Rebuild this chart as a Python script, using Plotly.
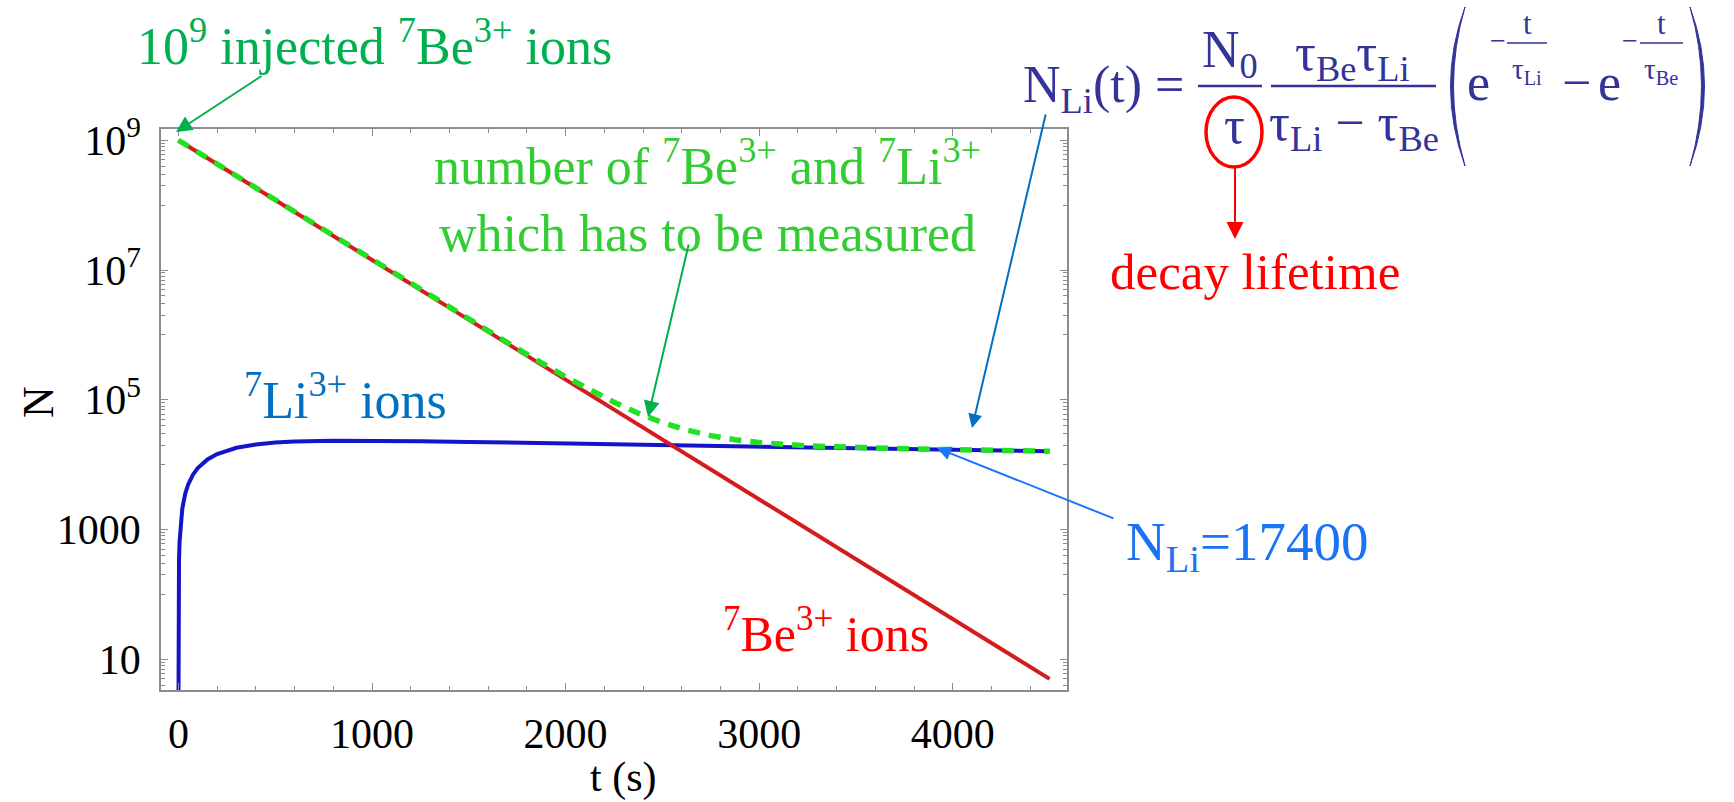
import plotly.graph_objects as go

# ---------------- data ----------------
t_be = [0, 500, 1000, 1500, 2000, 2500, 3000, 3500, 4000, 4500]
n_be = [1.0e9, 1.196e8, 1.433e7, 1.714e6, 2.05e5, 2.45e4, 2.93e3, 351, 42, 5.0]

t_li = [0, 0.3, 1, 3, 6, 10, 20, 35, 50, 75, 100, 150, 200, 300, 400, 500, 600,
        800, 1000, 1250, 1500, 2000, 2500, 3000, 3500, 4000, 4500]
n_li = [1, 33, 110, 330, 650, 1070, 2100, 3560, 4920, 7000, 8870, 12040, 14580,
        18220, 20500, 21900, 22720, 23360, 23330, 22930, 22390, 21220, 20070,
        18990, 17960, 16990, 16070]

t_sum = [0, 500, 1000, 1250, 1500, 1750, 2000, 2125, 2250, 2375, 2500, 2625, 2750,
         2875, 3000, 3250, 3500, 3750, 4000, 4250, 4500]
n_sum = [1.0e9, 1.196e8, 1.435e7, 4.97e6, 1.736e6, 6.15e5, 2.26e5, 1.414e5, 9.16e4,
         6.21e4, 4.46e4, 3.42e4, 2.80e4, 2.42e4, 2.19e4, 1.948e4, 1.83e4, 1.759e4,
         1.703e4, 1.654e4, 1.608e4]

x_ticks = [0, 1000, 2000, 3000, 4000]
y_ticks = [10, 1000, 1e5, 1e7, 1e9]
y_ticktext = ["10", "1000", "10<sup>5</sup>", "10<sup>7</sup>", "10<sup>9</sup>"]

# ---------------- layout helpers ----------------
W, H = 1734, 802
L, R, T, B = 161, 1067, 129, 690
def X(px):
    return (px - L) / (R - L)
def Y(py):
    return (B - py) / (B - T)

SERIF = "Liberation Serif"
NAVY = "#333399"
DKGREEN = "#00b050"
LTGREEN = "#33cc33"
RED = "#ff0000"

fig = go.Figure()
fig.add_trace(go.Scatter(x=t_li, y=n_li, mode="lines",
                         line=dict(color="#1414c8", width=4), hoverinfo="skip"))
fig.add_trace(go.Scatter(x=t_be, y=n_be, mode="lines",
                         line=dict(color="#d41c1c", width=4), hoverinfo="skip"))
fig.add_trace(go.Scatter(x=t_sum, y=n_sum, mode="lines",
                         line=dict(color="#22e022", width=5.5, dash="12px,9px"),
                         hoverinfo="skip"))

ann = []
def text(s, x, y, size, color, xanchor="center", yanchor="middle", align="center",
         angle=0):
    ann.append(dict(text=s, x=X(x), y=Y(y), xref="paper", yref="paper",
                    xanchor=xanchor, yanchor=yanchor, align=align, showarrow=False,
                    textangle=angle,
                    font=dict(family=SERIF, size=size, color=color)))

def arrow(tip, tail, color, width=2, size=1.6):
    ann.append(dict(text="", x=X(tip[0]), y=Y(tip[1]), xref="paper", yref="paper",
                    ax=tail[0] - tip[0], ay=tail[1] - tip[1], showarrow=True,
                    arrowhead=2, arrowsize=size, arrowwidth=width,
                    arrowcolor=color, standoff=0))

# axis titles
text("N", 39, 402, 44, "black", angle=-90)
text("t (s)", 623, 777, 42, "black")

# chart labels
text("10<sup>9</sup> injected <sup>7</sup>Be<sup>3+</sup> ions", 374, 43, 52, DKGREEN)
text("number of <sup>7</sup>Be<sup>3+</sup> and <sup>7</sup>Li<sup>3+</sup><br>"
     "which has to be measured", 707, 196, 52, LTGREEN)
text("<sup>7</sup>Li<sup>3+</sup> ions", 345, 397, 52, "#0070c0")
text("<sup>7</sup>Be<sup>3+</sup> ions", 826, 630, 50, RED)
text("N<sub>Li</sub>=17400", 1247, 545, 55, "#1a72f5")
text("decay lifetime", 1255, 272, 51, RED)

# arrows
arrow((176, 132), (263, 75), DKGREEN)
arrow((648, 417), (689, 243), DKGREEN)
arrow((972, 428), (1046, 113), "#0070c0", width=2, size=1.4)
arrow((937, 448), (1115, 519), "#1a75ff", width=2, size=1.4)
arrow((1235, 239), (1235, 166), RED, width=2, size=1.7)

# formula
text("N<sub>Li</sub>(t) =", 1021, 88, 52, NAVY, xanchor="left")
text("N<sub>0</sub>", 1230, 54, 52, NAVY)
text("τ", 1234, 125, 52, NAVY)
text("τ<sub>Be</sub>τ<sub>Li</sub>", 1352, 56, 52, NAVY)
text("τ<sub>Li</sub> − τ<sub>Be</sub>", 1354, 127, 52, NAVY)
text("e", 1478, 83, 52, NAVY)
text("−", 1576, 82, 52, NAVY)
text("e", 1609, 83, 52, NAVY)
text("−", 1498, 41, 28, NAVY)
text("t", 1527, 24, 31, NAVY)
text("τ<sub>Li</sub>", 1527, 71, 29, NAVY)
text("−", 1630, 41, 28, NAVY)
text("t", 1661, 24, 31, NAVY)
text("τ<sub>Be</sub>", 1661, 71, 29, NAVY)

shapes = []
def hline(x0, x1, y, color, width):
    shapes.append(dict(type="line", xref="paper", yref="paper",
                       x0=X(x0), x1=X(x1), y0=Y(y), y1=Y(y),
                       line=dict(color=color, width=width)))
hline(1198, 1262, 86, NAVY, 2.5)
hline(1271, 1436, 86, NAVY, 2.5)
hline(1507, 1547, 43, NAVY, 1.5)
hline(1640, 1683, 43, NAVY, 1.5)

def P(x, y):
    return f"{X(x):.5f},{Y(y):.5f}"
lpar = f"M {P(1465,7)} Q {P(1436,86)} {P(1465,166)} Q {P(1442,86)} {P(1465,7)} Z"
rpar = f"M {P(1690,7)} Q {P(1719,86)} {P(1690,166)} Q {P(1713,86)} {P(1690,7)} Z"
for p in (lpar, rpar):
    shapes.append(dict(type="path", xref="paper", yref="paper", path=p,
                       fillcolor=NAVY, line=dict(color=NAVY, width=1)))
shapes.append(dict(type="circle", xref="paper", yref="paper",
                   x0=X(1206), x1=X(1262), y0=Y(167), y1=Y(97),
                   line=dict(color=RED, width=3.5)))

minor_y = [m * 10 ** k for k in (0, 2, 4, 6, 8) for m in range(1, 10)]
axis_common = dict(showline=True, linecolor="#8c8c8c", linewidth=1.5, mirror="ticks",
                   ticks="inside", ticklen=7, tickwidth=1, tickcolor="#8c8c8c",
                   showgrid=False, zeroline=False,
                   tickfont=dict(family=SERIF, size=42, color="black"))

fig.update_layout(
    width=W, height=H, autosize=False,
    margin=dict(l=L, r=W - R, t=T, b=H - B, pad=0),
    paper_bgcolor="white", plot_bgcolor="white", showlegend=False,
    font=dict(family=SERIF),
    xaxis=dict(range=[-90, 4590], tickmode="array", tickvals=x_ticks,
               ticklabelstandoff=6,
               minor=dict(tick0=0, dtick=200, ticks="inside", ticklen=4,
                          tickcolor="#8c8c8c", showgrid=False),
               **axis_common),
    yaxis=dict(type="log", range=[0.527, 9.173], tickmode="array", tickvals=y_ticks,
               ticktext=y_ticktext, ticklabelstandoff=10,
               minor=dict(tickmode="array", tickvals=minor_y, ticks="inside",
                          ticklen=4, tickcolor="#8c8c8c", showgrid=False),
               **axis_common),
    annotations=ann, shapes=shapes,
)

fig.write_html("out.html")
